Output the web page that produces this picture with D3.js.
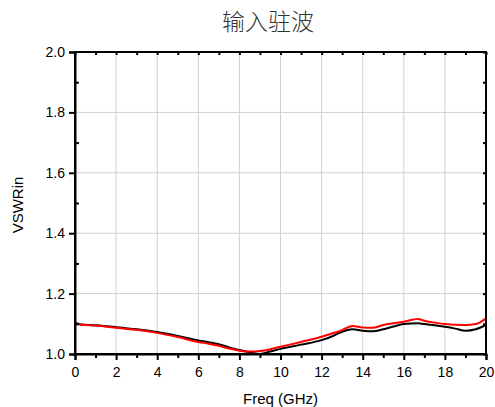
<!DOCTYPE html>
<html>
<head>
<meta charset="utf-8">
<script src="https://cdn.jsdelivr.net/npm/d3@7"></script>
<style>
  body { margin: 0; background: #fff; }
  text { font-family: "Liberation Sans", Arial, sans-serif; }
</style>
</head>
<body>
<svg id="chart" width="495" height="407"></svg>
<script>
// data
const freq = [0, 0.1, 0.3, 1, 2, 3, 4, 5, 6, 6.5, 7, 7.5, 8, 8.5, 9, 9.5, 10, 11, 12, 12.5, 12.9, 13.5, 14, 14.5, 15, 15.5, 16, 16.7, 17, 17.5, 18, 18.5, 19, 19.5, 20];
const vswrBlack = [1.104, 1.101, 1.098, 1.095, 1.089, 1.082, 1.073, 1.060, 1.045, 1.039, 1.032, 1.022, 1.013, 1.006, 1.000, 1.008, 1.017, 1.031, 1.046, 1.058, 1.071, 1.082, 1.077, 1.075, 1.082, 1.091, 1.099, 1.102, 1.099, 1.095, 1.090, 1.084, 1.077, 1.082, 1.096];
const vswrRed = [1.106, 1.101, 1.097, 1.094, 1.087, 1.080, 1.070, 1.056, 1.040, 1.034, 1.027, 1.018, 1.011, 1.008, 1.010, 1.016, 1.024, 1.040, 1.057, 1.068, 1.076, 1.093, 1.088, 1.087, 1.096, 1.102, 1.107, 1.116, 1.110, 1.104, 1.099, 1.097, 1.096, 1.099, 1.118];
const xTicks = [0, 2, 4, 6, 8, 10, 12, 14, 16, 18, 20];
const yTicks = [1.0, 1.2, 1.4, 1.6, 1.8, 2.0];

const margin = {top: 52, right: 9, bottom: 53, left: 75};
const width = 495, height = 407;
const svg = d3.select('#chart');

let x = d3.scaleLinear().domain([0, 20]).range([margin.left, width - margin.right]);
let y = d3.scaleLinear().domain([1.0, 2.0]).range([height - margin.bottom, margin.top]);

// grid
svg.append('g')
    .selectAll('line').data(xTicks.slice(1, -1)).enter()
    .append('line')
    .attr('x1', d => x(d)).attr('x2', d => x(d))
    .attr('y1', y(1.0)).attr('y2', y(2.0))
    .attr('stroke', '#d0d0d0').attr('stroke-width', 1);
svg.append('g')
    .selectAll('line').data(yTicks.slice(1, -1)).enter()
    .append('line')
    .attr('x1', x(0)).attr('x2', x(20))
    .attr('y1', d => y(d)).attr('y2', d => y(d))
    .attr('stroke', '#d0d0d0').attr('stroke-width', 1);

// curves
let line = d3.line().x((d, i) => x(freq[i])).y(d => y(d)).curve(d3.curveMonotoneX);
svg.append('path').datum(vswrBlack)
    .attr('d', line).attr('fill', 'none').attr('stroke', '#000').attr('stroke-width', 2);
svg.append('path').datum(vswrRed)
    .attr('d', line).attr('fill', 'none').attr('stroke', '#ff0000').attr('stroke-width', 2);

// axes
let xMinor = d3.range(0, 21, 1);
let yMinor = d3.range(1.0, 2.001, 0.1);

svg.append('g').attr('transform', 'translate(0,' + y(1.0) + ')')
    .call(d3.axisBottom(x).tickValues(xTicks).tickFormat(d3.format('d')).tickSize(6).tickPadding(7));
svg.append('g').attr('transform', 'translate(0,' + y(1.0) + ')')
    .call(d3.axisBottom(x).tickValues(xMinor.filter(d => d % 2)).tickFormat('').tickSize(4))
    .select('.domain').remove();

svg.append('g').attr('transform', 'translate(' + x(0) + ',0)')
    .call(d3.axisLeft(y).tickValues(yTicks).tickFormat(d3.format('.1f')).tickSize(6).tickPadding(4));
svg.append('g').attr('transform', 'translate(' + x(0) + ',0)')
    .call(d3.axisRight(y).tickValues(yMinor.filter((d, i) => i % 2)).tickFormat('').tickSize(4))
    .select('.domain').remove();

let topAxis = svg.append('g').attr('transform', 'translate(0,' + y(2.0) + ')')
    .call(d3.axisBottom(x).tickValues(xMinor).tickFormat('').tickSize(3));
topAxis.select('.domain').remove();
let rightAxis = svg.append('g').attr('transform', 'translate(' + x(20) + ',0)')
    .call(d3.axisLeft(y).tickValues(yMinor).tickFormat('').tickSize(3));
rightAxis.select('.domain').remove();

svg.selectAll('.domain').attr('stroke-width', 2);
svg.selectAll('.tick line').attr('stroke-width', 2);
svg.selectAll('.tick text').attr('font-size', 14).attr('fill', '#000')
    .style('font-family', '"Liberation Sans", Arial, sans-serif');

// frame
svg.append('rect')
    .attr('x', x(0)).attr('y', y(2.0))
    .attr('width', x(20) - x(0)).attr('height', y(1.0) - y(2.0))
    .attr('fill', 'none').attr('stroke', '#000').attr('stroke-width', 2);

// labels
svg.append('text').text('输入驻波')
    .attr('x', 268).attr('y', 30).attr('text-anchor', 'middle')
    .attr('font-size', 23).attr('font-weight', 300)
    .style('font-family', '"Noto Sans CJK SC", sans-serif')
    .attr('fill', '#333');
svg.append('text').text('Freq (GHz)')
    .attr('x', (x(0) + x(20)) / 2).attr('y', 404).attr('text-anchor', 'middle')
    .attr('font-size', 15);
svg.append('text').text('VSWRin')
    .attr('transform', 'translate(23,205) rotate(-90)')
    .attr('text-anchor', 'middle').attr('font-size', 15);
</script>
</body>
</html>
